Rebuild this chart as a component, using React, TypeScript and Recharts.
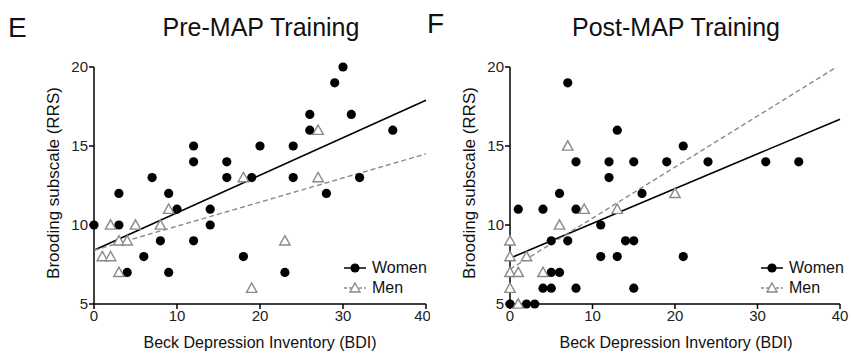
import { ScatterChart, Scatter, XAxis, YAxis } from "recharts";

// Pre-MAP (panel E)
const preWomenX = [0, 3, 3, 4, 6, 7, 8, 9, 9, 10, 12, 12, 12, 14, 14, 16, 16, 18, 19, 20, 23, 24, 24, 26, 26, 28, 29, 30, 31, 32, 36];
const preWomenY = [10, 12, 10, 7, 8, 13, 9, 12, 7, 11, 15, 14, 9, 11, 10, 14, 13, 8, 13, 15, 7, 15, 13, 17, 16, 12, 19, 20, 17, 13, 16];
const preMenX = [1, 2, 2, 3, 3, 4, 5, 8, 9, 18, 19, 23, 27, 27];
const preMenY = [8, 8, 10, 9, 7, 9, 10, 10, 11, 13, 6, 9, 16, 13];
// fitted lines (start and end points)
const preFitX = [0, 40];
const preWomenFit = [8.4, 17.9];
const preMenFit = [8.4, 14.5];

// Post-MAP (panel F)
const postWomenX = [0, 1, 2, 3, 4, 4, 5, 5, 5, 6, 6, 7, 7, 8, 8, 8, 11, 11, 12, 12, 13, 13, 14, 15, 15, 15, 16, 19, 21, 21, 24, 31, 35];
const postWomenY = [5, 11, 5, 5, 11, 6, 9, 7, 6, 12, 7, 19, 9, 14, 11, 6, 10, 8, 14, 13, 16, 8, 9, 14, 9, 6, 12, 14, 15, 8, 14, 14, 14];
const postMenX = [0, 0, 0, 0, 1, 1, 2, 4, 6, 7, 9, 13, 20];
const postMenY = [9, 8, 7, 6, 7, 5, 8, 7, 10, 15, 11, 11, 12];
const postWomenFitX = [0, 40];
const postWomenFit = [7.9, 16.7];
const postMenFitX = [0, 39.6];
const postMenFit = [7.2, 20];

const xTicks = [0, 10, 20, 30, 40];
const yTicks = [5, 10, 15, 20];

const FONT = "'Liberation Sans', Arial, Helvetica, sans-serif";

const zip = (xs: number[], ys: number[]) => xs.map((x, i) => ({ x, y: ys[i] }));

const Dot = (props: any) => {
  const { cx, cy } = props;
  if (cx == null || cy == null) return <g />;
  return <circle cx={cx} cy={cy} r={4.6} fill="#000" />;
};

const Tri = (props: any) => {
  const { cx, cy } = props;
  if (cx == null || cy == null) return <g />;
  const s = 5.2;
  return (
    <path
      d={`M${cx},${cy - s} L${cx + s},${cy + s * 0.8} L${cx - s},${cy + s * 0.8} Z`}
      fill="#fff"
      stroke="#8a8a8a"
      strokeWidth={1.4}
    />
  );
};

const NoShape = () => <g />;

interface PanelProps {
  women: { x: number; y: number }[];
  men: { x: number; y: number }[];
  womenFit: { x: number; y: number }[];
  menFit: { x: number; y: number }[];
  width: number;
  yAxisWidth: number;
  right: number;
}

function Panel({ women, men, womenFit, menFit, width, yAxisWidth, right }: PanelProps) {
  return (
    <ScatterChart
      width={width}
      height={355}
      margin={{ top: 67, right, bottom: 0, left: 0 }}
    >
      <XAxis
        type="number"
        dataKey="x"
        domain={[0, 40]}
        ticks={xTicks}
        height={51}
        stroke="#000"
        strokeWidth={1.5}
        tickSize={5}
        tickMargin={1}
        tick={{ fontSize: 15, fill: "#222", fontFamily: FONT }}
      />
      <YAxis
        type="number"
        dataKey="y"
        domain={[5, 20]}
        ticks={yTicks}
        width={yAxisWidth}
        stroke="#000"
        strokeWidth={1.5}
        tickSize={5}
        tickMargin={1}
        tick={{ fontSize: 15, fill: "#222", fontFamily: FONT }}
      />
      <Scatter
        data={womenFit}
        line={{ stroke: "#000", strokeWidth: 1.6 }}
        shape={NoShape}
        isAnimationActive={false}
      />
      <Scatter
        data={menFit}
        line={{ stroke: "#8a8a8a", strokeWidth: 1.4, strokeDasharray: "5 3" }}
        shape={NoShape}
        isAnimationActive={false}
      />
      <Scatter data={women} shape={Dot} isAnimationActive={false} />
      <Scatter data={men} shape={Tri} isAnimationActive={false} />
    </ScatterChart>
  );
}

function LegendBox({ left, top }: { left: number; top: number }) {
  const row = (label: string, dashed: boolean, y: number) => (
    <div style={{ position: "absolute", left: 0, top: y, height: 20, display: "flex", alignItems: "center" }}>
      <svg width={24} height={20}>
        <line
          x1={1}
          x2={23}
          y1={10}
          y2={10}
          stroke={dashed ? "#8a8a8a" : "#000"}
          strokeWidth={1.5}
          strokeDasharray={dashed ? "3 2" : undefined}
        />
        {dashed ? (
          <path d="M12,5 L17,14 L7,14 Z" fill="#fff" stroke="#8a8a8a" strokeWidth={1.4} />
        ) : (
          <circle cx={12} cy={10} r={4.6} fill="#000" />
        )}
      </svg>
      <span style={{ marginLeft: 5, fontSize: 16, color: "#111", fontFamily: FONT }}>{label}</span>
    </div>
  );
  return (
    <div style={{ position: "absolute", left, top, width: 100, height: 44 }}>
      {row("Women", false, 0)}
      {row("Men", true, 20)}
    </div>
  );
}

const textStyle = { position: "absolute" as const, fontFamily: FONT, color: "#111", whiteSpace: "nowrap" as const };

export default function App() {
  return (
    <div style={{ position: "absolute", left: 0, top: 0, width: 851, height: 355, background: "#fff", overflow: "hidden" }}>
      <div style={{ position: "absolute", left: 0, top: 0 }}>
        <Panel
          women={zip(preWomenX, preWomenY)}
          men={zip(preMenX, preMenY)}
          womenFit={zip(preFitX, preWomenFit)}
          menFit={zip(preFitX, preMenFit)}
          width={430}
          yAxisWidth={94}
          right={4}
        />
      </div>
      <div style={{ position: "absolute", left: 430, top: 0 }}>
        <Panel
          women={zip(postWomenX, postWomenY)}
          men={zip(postMenX, postMenY)}
          womenFit={zip(postWomenFitX, postWomenFit)}
          menFit={zip(postMenFitX, postMenFit)}
          width={421}
          yAxisWidth={80}
          right={11}
        />
      </div>

      <div style={{ ...textStyle, left: 8, top: 12, fontSize: 28 }}>E</div>
      <div style={{ ...textStyle, left: 427, top: 8, fontSize: 28 }}>F</div>
      <div style={{ ...textStyle, left: 155, top: 13, width: 212, textAlign: "center", fontSize: 25 }}>Pre-MAP Training</div>
      <div style={{ ...textStyle, left: 565, top: 13, width: 222, textAlign: "center", fontSize: 25 }}>Post-MAP Training</div>

      <div style={{ ...textStyle, left: 54, top: 183, fontSize: 17, transform: "translate(-50%, -50%) rotate(-90deg)" }}>
        Brooding subscale (RRS)
      </div>
      <div style={{ ...textStyle, left: 470, top: 183, fontSize: 17, transform: "translate(-50%, -50%) rotate(-90deg)" }}>
        Brooding subscale (RRS)
      </div>
      <div style={{ ...textStyle, left: 260, top: 343, fontSize: 16, transform: "translate(-50%, -50%)" }}>
        Beck Depression Inventory (BDI)
      </div>
      <div style={{ ...textStyle, left: 676, top: 343, fontSize: 16, transform: "translate(-50%, -50%)" }}>
        Beck Depression Inventory (BDI)
      </div>

      <LegendBox left={343} top={258} />
      <LegendBox left={760} top={258} />
    </div>
  );
}
